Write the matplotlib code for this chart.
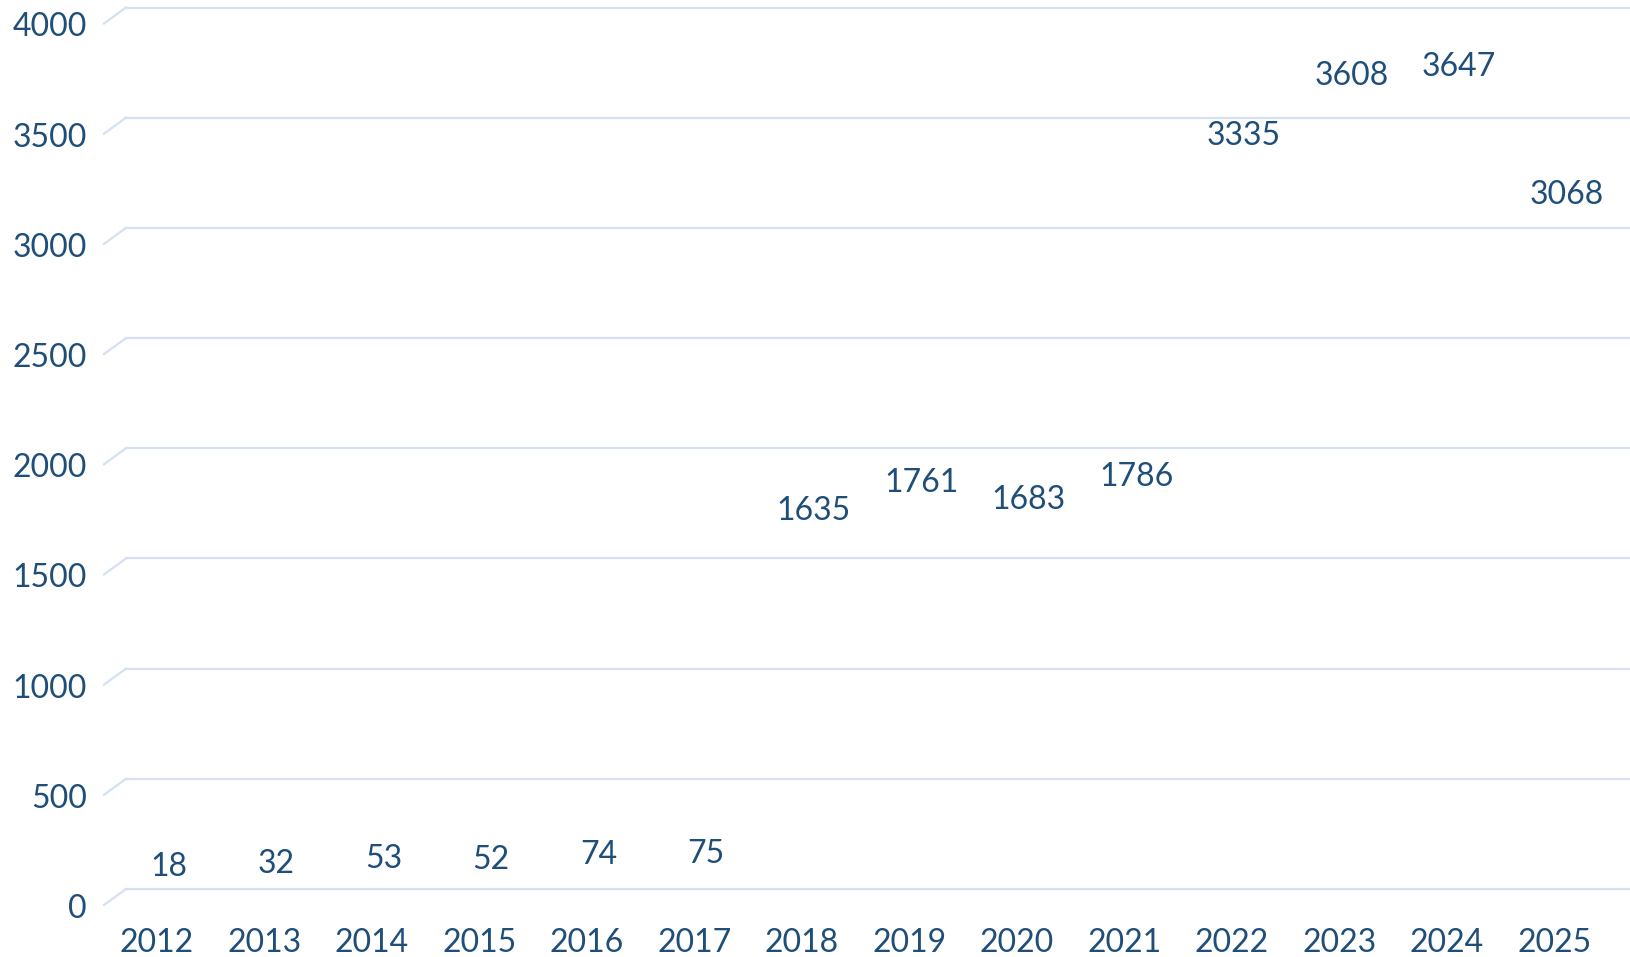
import matplotlib
matplotlib.use('Agg')
import matplotlib.pyplot as plt
import numpy as np

# data
years = ['2012', '2013', '2014', '2015', '2016', '2017', '2018',
         '2019', '2020', '2021', '2022', '2023', '2024', '2025']
values = [18, 32, 53, 52, 74, 75, 1635, 1761, 1683, 1786, 3335, 3608, 3647, 3068]
y_ticks = [0, 500, 1000, 1500, 2000, 2500, 3000, 3500, 4000]

text_color = '#1F4E79'
grid_color = '#D5E0F2'
plt.rcParams['font.family'] = ['Lato', 'DejaVu Sans']

W, H = 1631, 957
fig = plt.figure(figsize=(W / 100, H / 100), dpi=100)
# axes = back wall of the (3d-like) chart
ax = fig.add_axes([126 / W, 1 - 889 / H, (W - 126) / W, (889 - 7.5) / H])
ax.set_xlim(-0.5, len(years) - 0.5)
ax.set_ylim(0, 4000)
ax.axis('off')

ax_w = W - 126
ax_h = 889 - 7.5
dx, dy = 22, 16  # depth offset in pixels (front is left / down)

for t in y_ticks:
    yf = t / 4000
    # gridline on back wall
    ax.plot([0, 1], [yf, yf], transform=ax.transAxes, color=grid_color,
            lw=1.6, clip_on=False)
    # diagonal on side wall
    ax.plot([-dx / ax_w, 0], [yf - dy / ax_h, yf], transform=ax.transAxes,
            color=grid_color, lw=1.6, clip_on=False)
    ax.annotate(str(t), (-0.5, t), xytext=(-39, -20), textcoords='offset pixels',
                ha='right', va='center', fontsize=23, color=text_color,
                annotation_clip=False)

x = np.arange(len(years))
for i, (yr, v) in enumerate(zip(years, values)):
    ax.annotate(str(v), (i, v), xytext=(-11, 18), textcoords='offset pixels',
                ha='center', va='center', fontsize=23, color=text_color,
                annotation_clip=False)
    ax.annotate(yr, (i, 0), xytext=(-23, -54), textcoords='offset pixels',
                ha='center', va='center', fontsize=23, color=text_color,
                annotation_clip=False)

fig.savefig('out.png', dpi=100)
